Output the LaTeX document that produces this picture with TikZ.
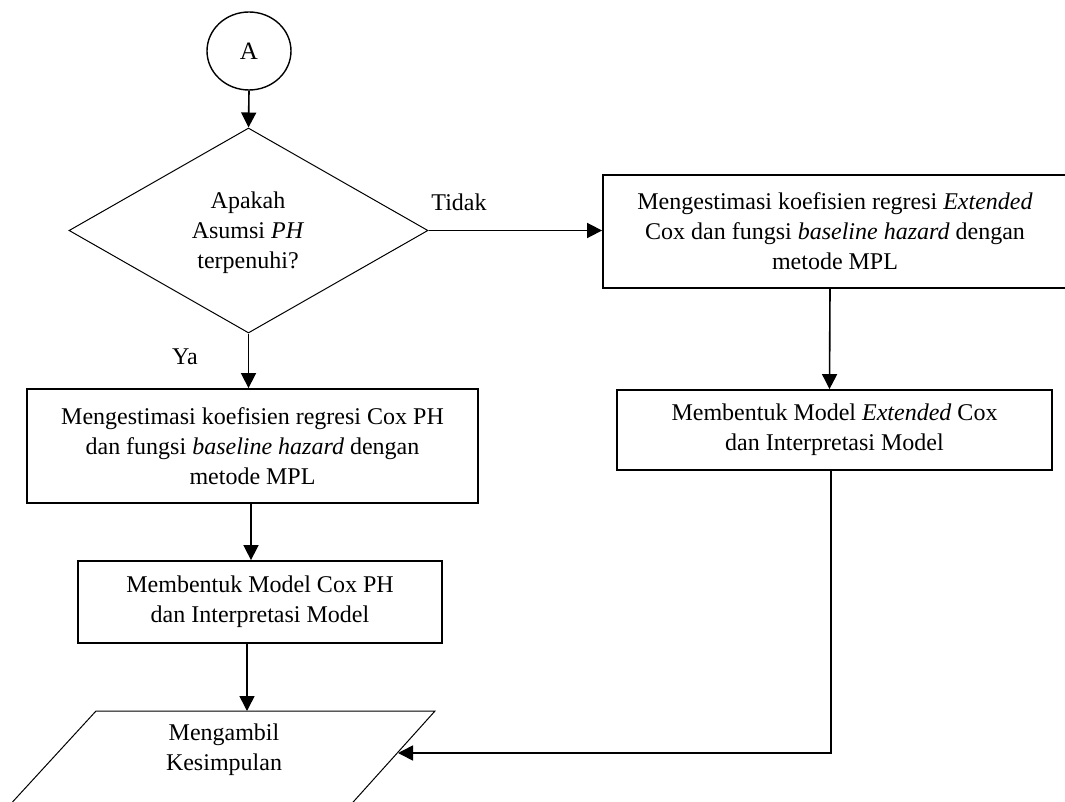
\documentclass[tikz,border=0pt]{standalone}
\usepackage{fontspec}
\setmainfont{Liberation Serif}
\usetikzlibrary{arrows.meta,shapes.geometric}
\newcommand\myfs{\fontsize{24}{30}\selectfont}
\tikzset{
  box/.style={draw, line width=1.8pt, inner sep=0pt, align=center, font=\myfs},
  txt/.style={align=center, inner sep=0pt, font=\myfs},
  arr/.style={line width=1.6pt, -{Triangle[length=15pt,width=15pt]}},
  thinline/.style={line width=1pt},
}
\begin{document}
\begin{tikzpicture}[x=1pt,y=-1pt]
\useasboundingbox (0,0) rectangle (1065,802);
\clip (0,0) rectangle (1065,802);
% start connector
\node[ellipse, draw, line width=1.4pt, minimum width=84pt, minimum height=78pt, inner sep=0pt, font=\fontsize{25}{30}\selectfont] (A) at (249,51) {A};
% decision
\node[diamond, draw, thinline, minimum width=359pt, minimum height=205pt, inner sep=0pt] (dia) at (248.5,230.5) {};
\node[txt] (diatxt) at (248,233) {Apakah\\Asumsi \textit{PH}\\terpenuhi?};
% left branch
\node[box, minimum width=451pt, minimum height=114pt] (lb1) at (252.5,446) {Mengestimasi koefisien regresi Cox PH\\dan fungsi \textit{baseline hazard} dengan\\metode MPL};
\node[box, minimum width=364pt, minimum height=82pt] (lb2) at (260,602) {Membentuk Model Cox PH\\dan Interpretasi Model};
% right branch
\node[box, minimum width=464pt, minimum height=113pt] (rb1) at (835,231.5) {Mengestimasi koefisien regresi \textit{Extended}\\Cox dan fungsi \textit{baseline hazard} dengan\\metode MPL};
\node[box, minimum width=435pt, minimum height=80pt] (rb2) at (834.5,430) {Membentuk Model \textit{Extended} Cox\\dan Interpretasi Model};
% output parallelogram
\draw[thinline] (96,711) -- (435,711) -- (337,820) -- (-4,820) -- cycle;
\node[txt] (kes) at (224,750) {Mengambil\\Kesimpulan};
\coordinate (kesTop) at (247,711);
\coordinate (kesIn) at (398,753);
% labels
\node[txt] (tidak) at (459,202) {Tidak};
\node[txt] (ya) at (185,357) {Ya};
% connectors
\draw[arr] (A.south) -- (dia.north);
\draw[arr] (dia.east) -- (dia.east -| rb1.west);
\draw[arr] (dia.south) -- (dia.south |- lb1.north);
\draw[arr] ([xshift=-1.5pt]lb1.south) -- ([xshift=-9pt]lb2.north);
\draw[arr] ([xshift=-13pt]lb2.south) -- (kesTop);
\draw[arr] ([xshift=-5pt]rb1.south) -- ([xshift=-5pt]rb2.north);
\draw[arr] ([xshift=-3.5pt]rb2.south) |- (kesIn);
\end{tikzpicture}
\end{document}
